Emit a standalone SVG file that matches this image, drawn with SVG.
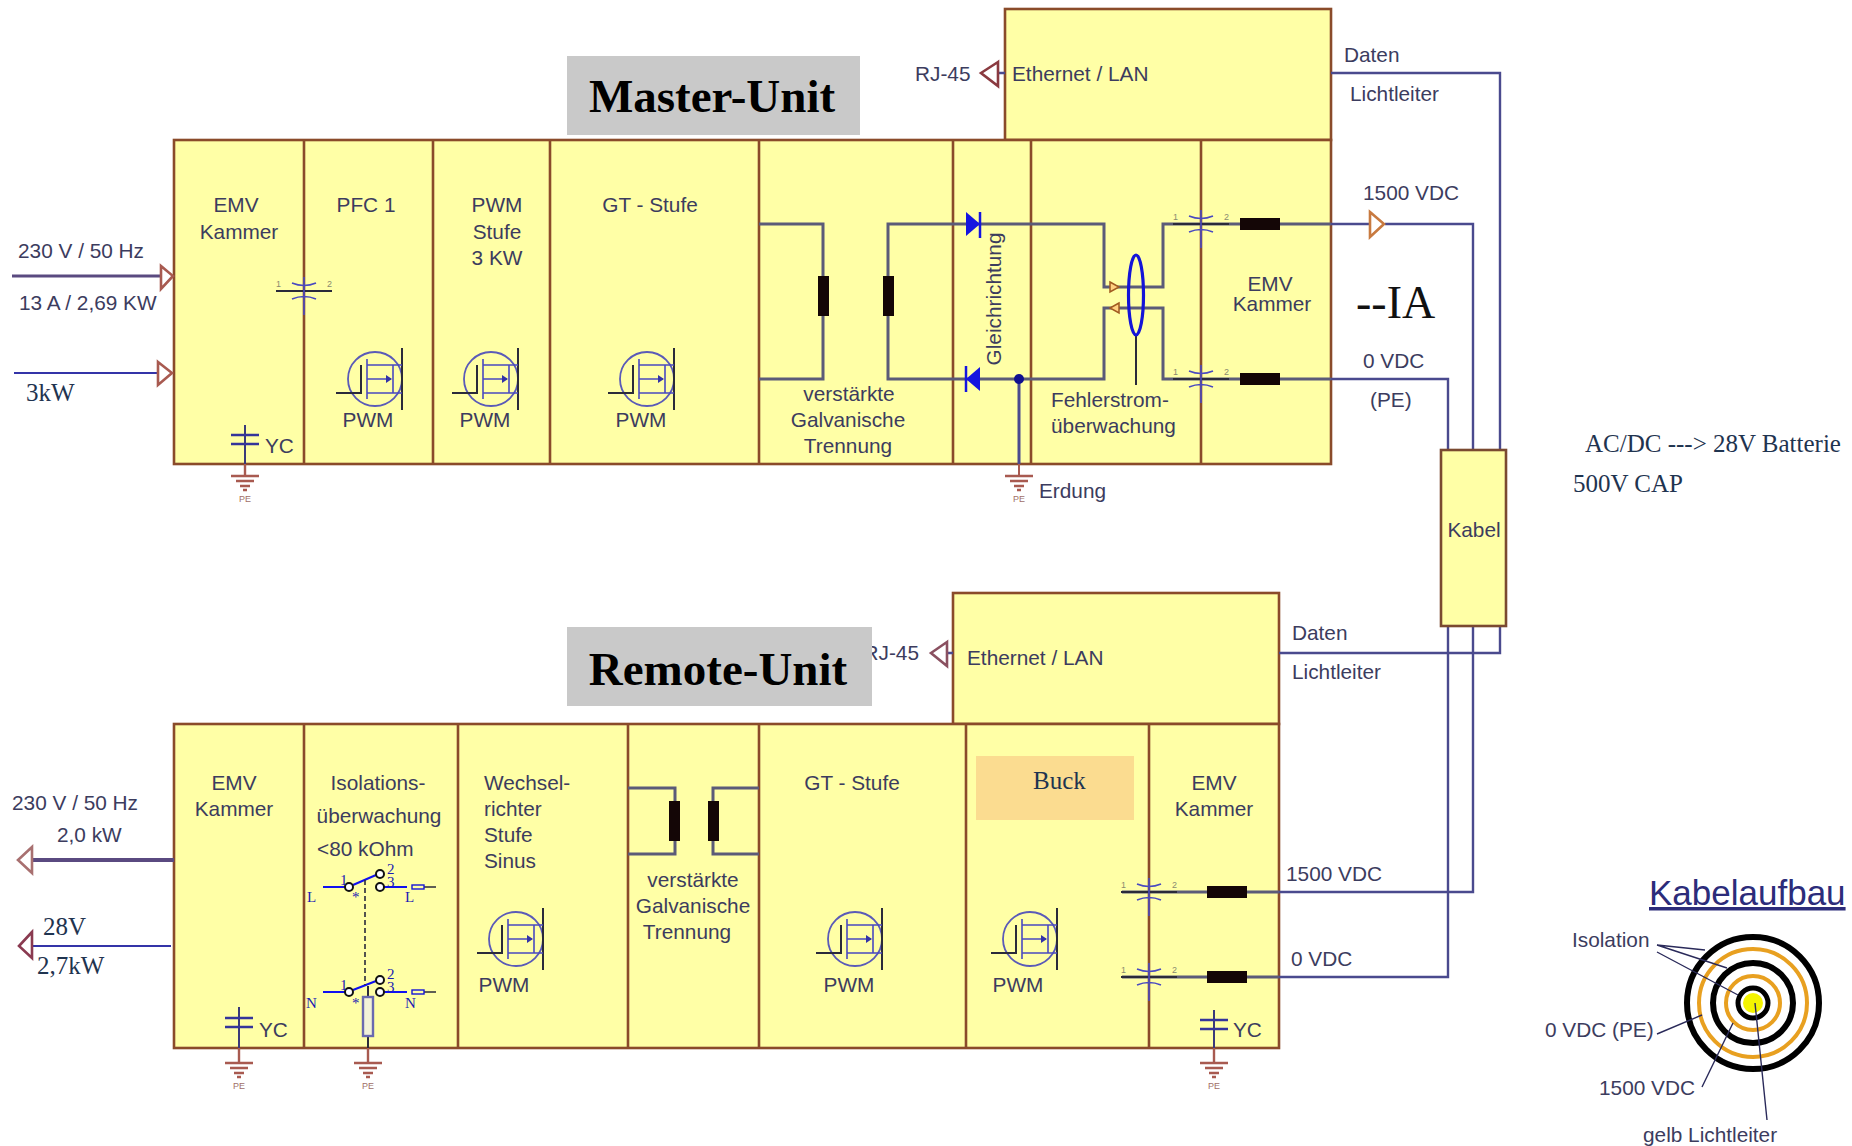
<svg xmlns="http://www.w3.org/2000/svg" xmlns:xlink="http://www.w3.org/1999/xlink" width="1852" height="1146" viewBox="0 0 1852 1146">
<style>
text{font-family:"Liberation Sans",Arial,sans-serif;font-size:20.8px;fill:#3c3c5e}
.c{text-anchor:middle}
.s{font-family:"Liberation Serif","Times New Roman",serif;fill:#1f3450;font-size:25px}
.big{font-family:"Liberation Serif","Times New Roman",serif;font-weight:bold;font-size:47px;fill:#000;text-anchor:middle}
.cell{fill:#ffffa6;stroke:#8a4b2a;stroke-width:2.6}
.div{stroke:#8a4b2a;stroke-width:2.6;fill:none}
.gray{fill:#c9c9c9}
.wire{fill:none;stroke:#5b5b78;stroke-width:3}
.wd{fill:none;stroke:#4a4a8e;stroke-width:2.4}
.bl{fill:none;stroke:#3434a8;stroke-width:2.2}
.tri{fill:#fff;stroke:#a85a50;stroke-width:2.6}
.core{fill:#140606}
.k{fill:none;stroke:#2a2a3a;stroke-width:2}
.b{fill:none;stroke:#4a4ac0;stroke-width:1.6}
.sw{fill:none;stroke:#1010f0;stroke-width:2}
.o{fill:#fff;stroke:#111;stroke-width:2}
.n{font-family:"Liberation Serif",serif;font-size:15px;fill:#1a1ab4}
.tiny{font-size:9px;fill:#8a8a70}
.pe{font-size:9px;fill:#a07068;text-anchor:middle}
.gnd{fill:none;stroke:#a85a50;stroke-width:2.4}
</style>
<defs>
<g id="mos">
<circle r="27" fill="none" stroke="#5a5ab8" stroke-width="1.8"/>
<path class="k" d="M-39 14H-14V-14M27-31V31"/>
<path class="b" d="M-8-20V20M-8-14H27M-8 0H16M-8 14H27M18-14V14"/>
<path d="M17 0l-6-4v8z" fill="#3434a8"/>
</g>
<g id="gnd">
<path class="gnd" d="M-14 0H14M-9 5H9M-5 10H5M-2 14H2"/>
<text class="pe" y="26">PE</text>
</g>
<g id="cap">
<path class="k" d="M-28 0H28"/>
<path class="b" d="M0-14V24M-12-8Q0-3 12-8M-12 8Q0 3 12 8"/>
<text class="tiny" x="-28" y="-4">1</text><text class="tiny" x="23" y="-4">2</text>
</g>
<g id="yc">
<path class="b" style="stroke:#34349a;stroke-width:2.6" d="M-14-4H14M-14 5H14"/>
</g>
</defs>
<rect width="1852" height="1146" fill="#fff"/>

<g id="master-unit-box">
<rect class="cell" x="1005" y="9" width="326" height="131"/>
<rect class="cell" x="174" y="140" width="1157" height="324"/>
<path class="div" d="M304 140V464M433 140V464M550 140V464M759 140V464M953 140V464M1031 140V464M1201 140V464"/>
</g>
<g id="remote-unit-box">
<rect class="cell" x="953" y="593" width="326" height="131"/>
<rect class="cell" x="174" y="724" width="1105" height="324"/>
<path class="div" d="M304 724V1048M458 724V1048M628 724V1048M759 724V1048M966 724V1048M1149 724V1048"/>
</g>

<g id="connectors">
<path class="wd" style="stroke:#5a4a80;stroke-width:3" d="M12 276H160"/>
<path class="bl" d="M14 373H158"/>
<path class="wd" d="M998 73H1005M1331 73H1500V450"/>
<path class="wire" d="M759 224H823V379H759M953 224H888V379H953"/>
<path class="wire" d="M953 224H1104V287H1163V224H1240"/>
<path class="wire" d="M953 379H1104V308H1163V379H1240"/>
<path class="wire" d="M1280 224H1331M1280 379H1331"/>
<path class="wd" d="M1331 224H1370M1385 224H1473V450"/>
<path class="wd" d="M1331 379H1448V450"/>
<path class="wd" style="stroke-width:3" d="M1019 379V464"/>
<path class="k" style="stroke:#a85a50" d="M1019 464V476"/>
<path class="k" d="M1136 335V385"/>
<path class="wd" d="M947 653H953M1279 653H1500V626"/>
<path class="wd" d="M1279 892H1473V626"/>
<path class="wd" d="M1279 977H1448V626"/>
<path class="wire" d="M628 788H675V854H628M759 788H713V854H759"/>
<path class="wire" d="M1122 892H1207M1247 892H1279M1122 977H1207M1247 977H1279"/>
<path class="wd" style="stroke:#5a4a80;stroke-width:4" d="M33 860H174"/>
<path class="bl" d="M30 946H171"/>
<polygon class="tri" points="161,266 173,276 161,289"/>
<polygon class="tri" points="158,362 172,373 158,385"/>
<polygon class="tri" style="stroke:#8a3a40" points="998,62 981,73 998,86"/>
<polygon class="tri" style="stroke:#c87a40" points="1370,212 1384,224 1370,237"/>
<polygon class="tri" style="stroke:#8a5060" points="947,642 931,653 947,666"/>
<polygon class="tri" style="stroke:#a87070" points="32,847 18,860 32,873"/>
<polygon class="tri" style="stroke:#8a3a50" points="32,932 19,946 32,958"/>
</g>

<g id="emv1">
<text class="c" x="236" y="212">EMV</text><text class="c" x="239" y="239">Kammer</text>
<path class="k" style="stroke:#3a3a7a" d="M245 425V464"/><use href="#yc" x="245" y="439"/>
<text x="265" y="453">YC</text>
<path class="gnd" d="M245 464V476"/><use href="#gnd" x="245" y="476"/>
<use href="#cap" x="304" y="291"/>
</g>
<g id="pfc1">
<text class="c" x="366" y="212">PFC 1</text>
<use href="#mos" x="375" y="379"/>
<text class="c" x="368" y="427">PWM</text>
</g>
<g id="pwm-stufe">
<text class="c" x="497" y="212">PWM</text><text class="c" x="497" y="239">Stufe</text><text class="c" x="497" y="265">3 KW</text>
<use href="#mos" x="491" y="379"/>
<text class="c" x="485" y="427">PWM</text>
</g>
<g id="gt-stufe1">
<text class="c" x="650" y="212">GT - Stufe</text>
<use href="#mos" x="647" y="379"/>
<text class="c" x="641" y="427">PWM</text>
</g>
<g id="trennung1">
<rect class="core" x="818" y="276" width="11" height="40"/>
<rect class="core" x="883" y="276" width="11" height="40"/>
<text class="c" x="849" y="401">verstärkte</text><text class="c" x="848" y="427">Galvanische</text><text class="c" x="848" y="453">Trennung</text>
</g>
<g id="gleichrichtung">
<path d="M966 212L980 224L966 236Z" fill="#1414e0"/><path d="M980 212V238" stroke="#1414e0" stroke-width="2.5"/>
<path d="M980 367L966 379L980 391Z" fill="#1414e0"/><path d="M966 366V392" stroke="#1414e0" stroke-width="2.5"/>
<circle cx="1019" cy="379" r="5" fill="#101090"/>
<text class="c" transform="translate(1001 299) rotate(-90)">Gleichrichtung</text>
<use href="#gnd" x="1019" y="476"/>
<text x="1039" y="498">Erdung</text>
</g>
<g id="fehlerstrom">
<polygon points="1110,282 1119,287 1110,292" fill="#ffd080" stroke="#a05a20" stroke-width="1.5"/>
<polygon points="1119,303 1110,308 1119,313" fill="#ffd080" stroke="#a05a20" stroke-width="1.5"/>
<ellipse cx="1136" cy="295" rx="7.5" ry="40" fill="none" stroke="#1414d8" stroke-width="3.2"/>
<text x="1051" y="407">Fehlerstrom-</text><text x="1051" y="433">überwachung</text>
</g>
<g id="emv2">
<use href="#cap" x="1201" y="224"/>
<use href="#cap" x="1201" y="379"/>
<rect class="core" x="1240" y="218" width="40" height="12"/>
<rect class="core" x="1240" y="373" width="40" height="12"/>
<text class="c" x="1270" y="291">EMV</text><text class="c" x="1272" y="311">Kammer</text>
</g>
<g id="ethernet1">
<text x="1012" y="81">Ethernet / LAN</text>
<text x="915" y="81">RJ-45</text>
</g>
<g id="master-labels">
<text x="18" y="258">230 V / 50 Hz</text>
<text x="19" y="310">13 A / 2,69 KW</text>
<text class="s" x="26" y="401">3kW</text>
<text x="1344" y="62">Daten</text><text x="1350" y="101">Lichtleiter</text>
<text x="1363" y="200">1500 VDC</text>
<text x="1363" y="368">0 VDC</text><text x="1370" y="407">(PE)</text>
<text class="s" x="1356" y="318" style="font-size:46px;fill:#111">--IA</text>
<text class="s" x="1585" y="452">AC/DC ---&gt; 28V Batterie</text>
<text class="s" x="1573" y="492">500V CAP</text>
</g>

<g id="kabel">
<rect x="1441" y="450" width="65" height="176" fill="#ffffa6" stroke="#7a4a30" stroke-width="2.6"/>
<text class="c" x="1474" y="537">Kabel</text>
</g>

<g id="emv3">
<text class="c" x="234" y="790">EMV</text><text class="c" x="234" y="816">Kammer</text>
<path class="k" style="stroke:#3a3a7a" d="M239 1007V1048"/><use href="#yc" x="239" y="1022"/>
<text x="259" y="1037">YC</text>
<path class="gnd" d="M239 1048V1063"/><use href="#gnd" x="239" y="1063"/>
</g>
<g id="isolation">
<text class="c" x="378" y="790">Isolations-</text><text class="c" x="379" y="823">überwachung</text><text x="317" y="856">&lt;80 kOhm</text>
<path class="sw" d="M323 887H345M353 885L376 875M384 887H407M323 992H345M353 990L376 981M384 992H407"/>
<path class="k" d="M376 874H380M376 980H380M424 887H436M424 992H436" style="stroke-width:1.6"/>
<path class="k" style="stroke-dasharray:5 3;stroke-width:1.6" d="M365 880V985"/>
<circle class="o" cx="349" cy="887" r="4"/><circle class="o" cx="380" cy="874" r="4"/><circle class="o" cx="380" cy="887" r="4"/>
<circle class="o" cx="349" cy="992" r="4"/><circle class="o" cx="380" cy="980" r="4"/><circle class="o" cx="380" cy="992" r="4"/>
<rect x="412" y="885" width="12" height="4" fill="#ffffa6" stroke="#1414d8" stroke-width="1.4"/>
<rect x="412" y="990" width="12" height="4" fill="#ffffa6" stroke="#1414d8" stroke-width="1.4"/>
<text class="n" x="340" y="885">1</text><text class="n" x="387" y="874">2</text><text class="n" x="387" y="887">3</text>
<text class="n" x="340" y="990">1</text><text class="n" x="387" y="979">2</text><text class="n" x="387" y="992">3</text>
<text class="n" x="352" y="902">*</text><text class="n" x="352" y="1008">*</text>
<text class="n" x="307" y="902">L</text><text class="n" x="405" y="902">L</text>
<text class="n" x="306" y="1008">N</text><text class="n" x="405" y="1008">N</text>
<path class="k" d="M368 986V997M368 1036V1048"/>
<rect x="363" y="997" width="10" height="39" fill="#f2f2d8" stroke="#6a6ab0" stroke-width="2.4"/>
<path class="gnd" d="M368 1048V1063"/><use href="#gnd" x="368" y="1063"/>
</g>
<g id="wechselrichter">
<text x="484" y="790">Wechsel-</text><text x="484" y="816">richter</text><text x="484" y="842">Stufe</text><text x="484" y="868">Sinus</text>
<use href="#mos" x="516" y="939"/>
<text class="c" x="504" y="992">PWM</text>
</g>
<g id="trennung2">
<rect class="core" x="669" y="801" width="11" height="40"/>
<rect class="core" x="708" y="801" width="11" height="40"/>
<text class="c" x="693" y="887">verstärkte</text><text class="c" x="693" y="913">Galvanische</text><text class="c" x="687" y="939">Trennung</text>
</g>
<g id="gt-stufe2">
<text class="c" x="852" y="790">GT - Stufe</text>
<use href="#mos" x="855" y="939"/>
<text class="c" x="849" y="992">PWM</text>
</g>
<g id="buck">
<rect x="976" y="756" width="158" height="64" fill="#fbdc90"/>
<text class="s" x="1033" y="789">Buck</text>
<use href="#mos" x="1030" y="939"/>
<text class="c" x="1018" y="992">PWM</text>
</g>
<g id="emv4">
<use href="#cap" x="1149" y="892"/>
<use href="#cap" x="1149" y="977"/>
<rect class="core" x="1207" y="886" width="40" height="12"/>
<rect class="core" x="1207" y="971" width="40" height="12"/>
<text class="c" x="1214" y="790">EMV</text><text class="c" x="1214" y="816">Kammer</text>
<path class="k" style="stroke:#3a3a7a" d="M1214 1010V1048"/><use href="#yc" x="1214" y="1024"/>
<text x="1233" y="1037">YC</text>
<path class="gnd" d="M1214 1048V1063"/><use href="#gnd" x="1214" y="1063"/>
</g>
<g id="ethernet2">
<text x="967" y="665">Ethernet / LAN</text>
<text x="919" y="660" style="text-anchor:end">RJ-45</text>
</g>
<g id="remote-labels">
<text x="12" y="810">230 V / 50 Hz</text><text x="57" y="842">2,0 kW</text>
<text class="s" x="43" y="935">28V</text><text class="s" x="37" y="974">2,7kW</text>
<text x="1292" y="640">Daten</text><text x="1292" y="679">Lichtleiter</text>
<text x="1286" y="881">1500 VDC</text><text x="1291" y="966">0 VDC</text>
</g>

<g id="title-master"><rect class="gray" x="567" y="56" width="293" height="79"/><text class="big" x="712" y="112">Master-Unit</text></g>
<g id="title-remote"><rect class="gray" x="567" y="627" width="305" height="79"/><text class="big" x="718" y="685">Remote-Unit</text></g>

<g id="kabelaufbau">
<text x="1649" y="905" style="font-size:35px;fill:#2c2c7a;text-decoration:underline">Kabelaufbau</text>
<g fill="none">
<circle cx="1753" cy="1003" r="66" stroke="#000" stroke-width="6"/>
<circle cx="1753" cy="1003" r="54" stroke="#e8a020" stroke-width="4"/>
<circle cx="1753" cy="1003" r="40" stroke="#000" stroke-width="6"/>
<circle cx="1753" cy="1003" r="27" stroke="#e8a020" stroke-width="4"/>
<circle cx="1753" cy="1003" r="15" stroke="#000" stroke-width="5"/>
</g>
<circle cx="1753" cy="1003" r="10" fill="#f4f400"/>
<path d="M1657 945L1705 950M1657 945L1727 968M1657 952L1738 995M1657 1034L1702 1015M1702 1087L1733 1023M1767 1120L1755 1003" fill="none" stroke="#2a2a5a" stroke-width="1.4"/>
<text x="1572" y="947">Isolation</text>
<text x="1545" y="1037">0 VDC (PE)</text>
<text x="1599" y="1095">1500 VDC</text>
<text x="1643" y="1142">gelb Lichtleiter</text>
</g>
</svg>
